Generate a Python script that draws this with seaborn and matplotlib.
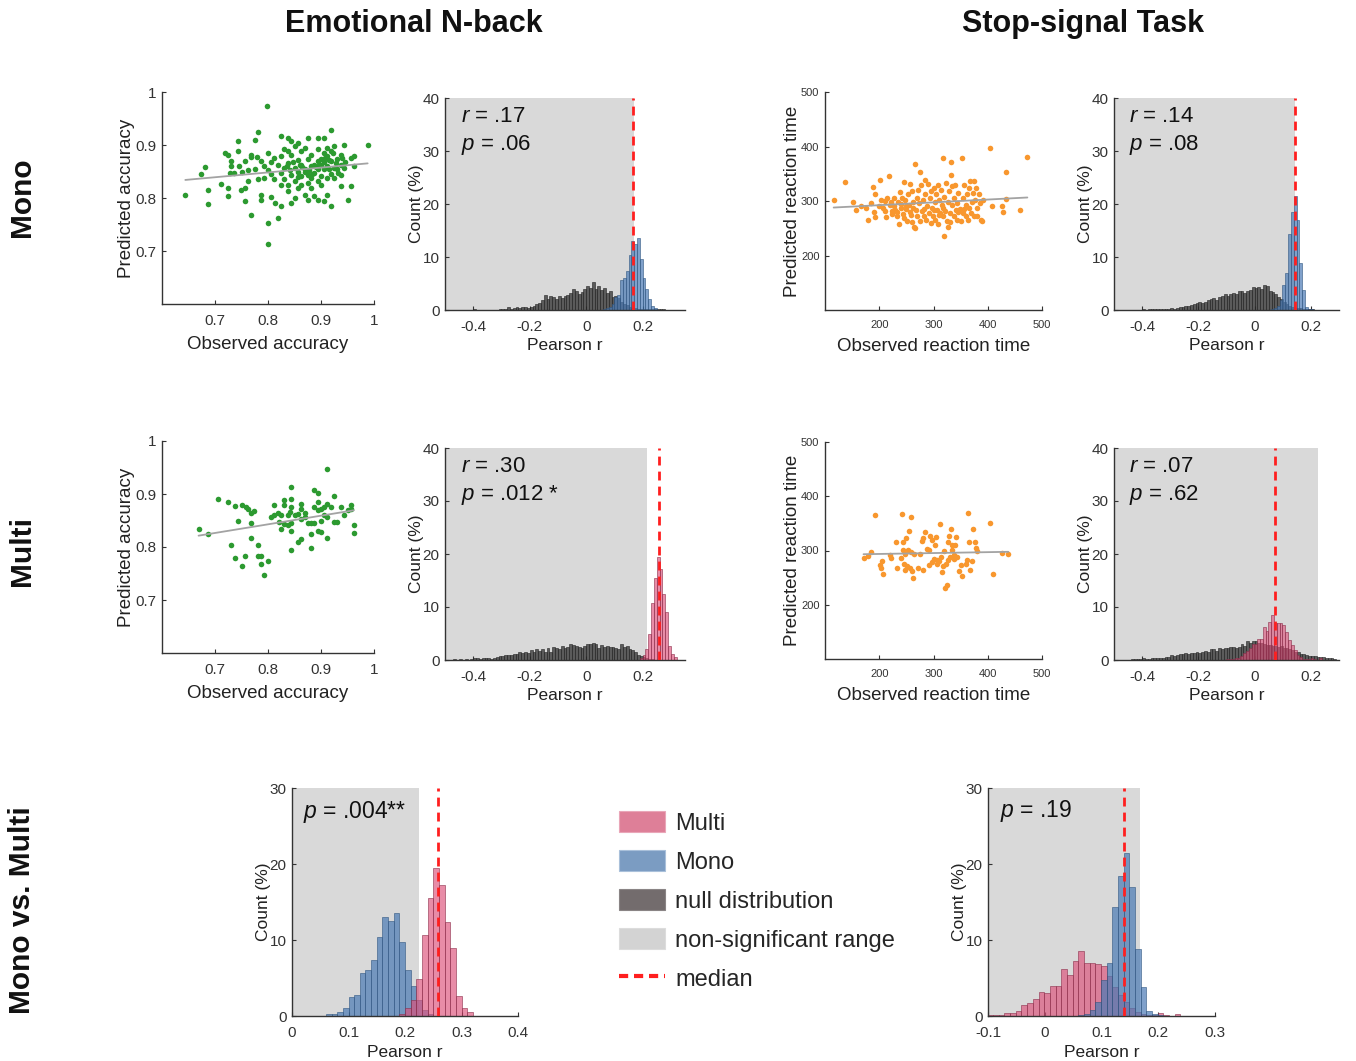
import numpy as np
import pandas as pd
import matplotlib
matplotlib.use("Agg")
import matplotlib.pyplot as plt
import seaborn as sns
from matplotlib.patches import Patch
from matplotlib.lines import Line2D

# ---------------- DATA ----------------
task_titles = ["Emotional N-back", "Stop-signal Task"]
row_labels = ["Mono", "Multi", "Mono vs. Multi"]
legend_labels = ["Multi", "Mono", "null distribution", "non-significant range", "median"]

# Emotional N-back, Mono: observed vs predicted accuracy
en_mono_obs = [0.644,0.674,0.681,0.687,0.687,0.712,0.718,0.724,0.724,0.725,
               0.731,0.731,0.729,0.736,0.743,0.743,0.745,0.749,0.750,0.756,
               0.756,0.762,0.762,0.756,0.768,0.768,0.768,0.775,0.775,0.780,
               0.781,0.781,0.787,0.787,0.787,0.792,0.793,0.798,0.800,0.800,
               0.800,0.800,0.806,0.806,0.806,0.812,0.812,0.813,0.818,0.818,
               0.825,0.825,0.825,0.825,0.825,0.831,0.831,0.831,0.837,0.837,
               0.837,0.837,0.837,0.844,0.844,0.844,0.844,0.850,0.850,0.850,
               0.850,0.856,0.856,0.856,0.856,0.862,0.862,0.862,0.862,0.869,
               0.869,0.869,0.875,0.875,0.875,0.875,0.875,0.881,0.881,0.881,
               0.881,0.887,0.887,0.887,0.894,0.894,0.894,0.894,0.894,0.894,
               0.900,0.900,0.900,0.900,0.906,0.906,0.906,0.906,0.912,0.912,
               0.912,0.912,0.912,0.919,0.919,0.919,0.919,0.919,0.925,0.925,
               0.925,0.931,0.931,0.937,0.937,0.937,0.937,0.944,0.944,0.950,
               0.956,0.956,0.962,0.962,0.988,
               0.865,0.878,0.890,0.905,0.915,0.922,0.908,0.897,0.883,0.870,
               0.860,0.848,0.835,0.842,0.857,0.915,0.928,0.940,0.945,0.933]
en_mono_pred = [0.805,0.846,0.858,0.816,0.789,0.827,0.884,0.881,0.819,0.803,
                0.870,0.860,0.847,0.847,0.908,0.889,0.860,0.816,0.849,0.870,
                0.819,0.852,0.832,0.795,0.882,0.877,0.768,0.909,0.854,0.877,
                0.925,0.835,0.870,0.806,0.797,0.860,0.837,0.974,0.885,0.852,
                0.753,0.713,0.868,0.846,0.801,0.876,0.835,0.791,0.862,0.763,
                0.917,0.879,0.847,0.825,0.784,0.892,0.857,0.835,0.914,0.889,
                0.866,0.825,0.813,0.908,0.882,0.844,0.790,0.898,0.857,0.832,
                0.800,0.904,0.871,0.849,0.819,0.889,0.863,0.841,0.825,0.895,
                0.854,0.806,0.914,0.873,0.844,0.828,0.797,0.882,0.860,0.838,
                0.819,0.863,0.847,0.803,0.914,0.892,0.870,0.854,0.832,0.797,
                0.873,0.863,0.841,0.825,0.914,0.885,0.854,0.794,0.895,0.879,
                0.860,0.838,0.806,0.928,0.889,0.870,0.846,0.784,0.898,0.857,
                0.838,0.873,0.854,0.882,0.863,0.844,0.822,0.900,0.857,0.797,
                0.875,0.822,0.879,0.861,0.900,
                0.858,0.852,0.858,0.868,0.872,0.885,0.876,0.862,0.845,0.850,
                0.862,0.868,0.860,0.852,0.840,0.855,0.866,0.875,0.868,0.848]

# Emotional N-back, Multi
en_multi_obs = [0.669,0.687,0.706,0.724,0.731,0.737,0.737,0.743,0.750,0.750,
                0.756,0.758,0.762,0.768,0.768,0.768,0.773,0.781,0.781,0.787,
                0.787,0.793,0.800,0.806,0.811,0.812,0.818,0.820,0.825,0.825,
                0.831,0.831,0.831,0.837,0.837,0.841,0.844,0.844,0.844,0.844,
                0.844,0.844,0.850,0.856,0.856,0.862,0.862,0.862,0.862,0.869,
                0.869,0.875,0.881,0.881,0.881,0.887,0.887,0.887,0.894,0.894,
                0.894,0.894,0.900,0.900,0.900,0.906,0.906,0.912,0.912,0.912,
                0.912,0.919,0.925,0.925,0.931,0.937,0.944,0.950,0.956,0.956,
                0.962,0.962]
en_multi_pred = [0.834,0.824,0.890,0.885,0.803,0.877,0.779,0.850,0.764,0.880,
                 0.783,0.875,0.872,0.846,0.817,0.865,0.867,0.803,0.783,0.783,
                 0.768,0.747,0.774,0.856,0.879,0.860,0.865,0.848,0.834,0.860,
                 0.888,0.844,0.879,0.860,0.842,0.866,0.913,0.891,0.875,0.846,
                 0.831,0.795,0.860,0.863,0.810,0.882,0.871,0.853,0.815,0.865,
                 0.856,0.846,0.825,0.798,0.846,0.907,0.875,0.846,0.901,0.885,
                 0.869,0.831,0.872,0.828,0.850,0.875,0.860,0.948,0.882,0.856,
                 0.817,0.875,0.896,0.848,0.848,0.875,0.861,0.869,0.880,0.871,
                 0.842,0.827]

# Stop-signal, Mono: observed vs predicted reaction time
ss_mono_obs = [116,137,151,157,166,176,179,188,190,192,
               192,201,203,207,210,212,215,218,220,223,
               224,227,229,232,235,236,238,241,243,246,
               247,249,251,253,255,257,259,261,261,263,
               264,265,266,268,270,271,273,276,276,277,
               279,280,282,284,285,287,288,290,291,293,
               295,296,297,299,301,302,303,305,307,308,
               309,311,312,314,316,317,317,319,320,321,
               323,325,326,327,329,331,332,332,334,335,
               337,338,340,341,343,344,346,349,351,352,
               354,355,357,359,360,362,363,365,366,368,
               369,371,372,374,375,377,378,380,381,383,
               385,387,390,392,404,408,427,429,433,434,
               459,473,
               228,233,240,245,250,256,262,270,283,300,
               310,318,330,345,356,210,222,199,185,242]
ss_mono_pred = [302,334,298,284,291,288,265,326,279,313,
                271,338,302,287,281,270,305,345,293,282,
                276,305,284,272,299,258,316,288,276,334,
                302,285,264,312,293,332,275,319,261,299,
                252,368,250,284,272,321,296,354,263,330,
                281,302,272,312,339,266,290,331,278,306,
                260,318,287,273,324,299,266,312,284,330,
                257,302,278,321,293,378,272,308,235,281,
                333,263,299,253,318,278,372,348,327,293,
                272,305,330,284,296,266,315,286,263,378,
                278,305,330,272,293,312,266,324,287,336,
                278,299,315,337,272,302,324,287,272,312,
                296,266,263,302,398,290,290,280,353,304,
                284,381,
                290,280,295,268,290,280,287,305,285,283,
                275,288,262,280,285,300,298,290,297,305]

# Stop-signal, Multi
ss_multi_obs = [171,179,185,193,201,203,205,207,219,221,
                230,232,240,242,243,244,246,247,248,250,
                252,253,254,256,258,259,260,262,264,272,
                276,278,280,281,284,288,291,292,294,297,
                298,300,303,305,306,307,311,312,314,316,
                317,320,321,323,325,326,327,329,331,332,
                334,335,337,338,340,342,344,347,350,353,
                359,361,364,365,368,371,373,376,379,381,
                404,410,426,438]
ss_multi_pred = [287,290,298,366,273,267,280,256,291,287,
                 315,267,287,368,315,301,276,264,294,323,
                 272,301,336,267,298,362,262,250,293,267,
                 293,317,323,264,334,302,301,273,327,319,
                 278,284,310,325,282,276,280,348,288,261,
                 272,299,230,276,236,315,282,327,288,339,
                 301,310,284,291,310,325,288,262,274,253,
                 276,282,370,316,264,280,339,315,305,299,
                 350,256,296,293]

# Histograms (percent of permutations), bin width 0.01
bin_width = 0.01
en_mono_null_start = -0.40
en_mono_null = [0.1,0,0,0,0,0,0,0,0,0.1,
                0.1,0.1,0.5,0.2,0.3,0.5,0.4,0.5,0.5,0.4,
                0.6,0.8,1.2,1.3,1.8,2.8,2.0,2.6,2.4,2.0,
                2.6,2.3,2.6,2.9,3.3,4.0,3.6,3.0,3.4,4.0,
                4.6,4.2,5.2,4.0,4.6,3.8,4.2,3.3,3.6,2.5,
                2.6,2.2,1.6,1.2,0.9,0.6,0.4,0.3,0.2,0.1,
                0.1,0.1,0.1,0.1,0.1,0.1,0.1,0.2]
en_multi_null_start = -0.47
en_multi_null = [0.1,0.0,0.1,0.0,0.2,0.0,0.1,0.3,0.3,0.2,
                 0.4,0.3,0.3,0.2,0.3,0.5,0.7,0.8,0.9,1.0,
                 1.0,1.2,1.1,1.5,1.4,1.6,1.3,1.8,1.5,2.0,
                 1.7,2.0,1.5,2.2,1.6,2.4,2.2,2.0,2.6,2.2,
                 2.5,3.0,2.9,2.6,2.4,2.3,2.6,3.1,3.0,3.2,
                 3.0,2.3,2.8,2.5,2.6,2.4,2.5,2.3,2.0,3.1,
                 2.4,2.6,2.0,1.8,1.5,1.0,0.7,0.5,0.3,0.2,0.1]
ss_mono_null_start = -0.40
ss_mono_null = [0.2,0.0,0.1,0.1,0.1,0.1,0.2,0.2,0.1,0.2,
                0.3,0.2,0.3,0.5,0.5,0.7,0.8,1.0,1.1,1.3,
                1.6,1.4,1.5,1.8,2.0,2.3,1.9,2.5,2.7,3.0,
                2.7,3.1,3.3,3.0,3.6,3.5,3.2,3.6,3.8,4.3,
                4.1,4.4,4.0,4.8,4.6,3.6,3.4,3.0,2.4,2.0,
                1.5,1.1,0.8,0.6,0.4,0.3,0.3,0.2,0.2,0.1,0.1]
ss_multi_null_start = -0.44
ss_multi_null = [0.1,0.1,0.1,0.1,0.3,0.1,0.2,0.3,0.4,0.4,
                 0.3,0.4,0.6,0.5,0.9,0.8,1.0,1.1,1.2,1.3,
                 1.2,1.4,1.3,1.5,1.4,1.5,1.7,1.6,2.0,2.1,
                 1.7,2.3,2.0,2.3,2.3,2.5,2.4,2.3,2.5,3.0,
                 2.6,3.6,3.3,3.5,3.6,3.3,3.2,3.0,2.8,2.9,
                 2.6,2.7,2.5,2.6,2.3,2.3,2.0,1.9,1.6,1.5,
                 1.2,1.1,0.9,0.8,0.8,0.7,0.6,0.6,0.5,0.4,
                 0.4,0.3,0.2]

en_mono_r_start = 0.06
en_mono_r = [0.2,0.3,0.5,1.1,2.5,2.8,5.7,6.0,7.4,10.4,
             13.0,12.5,13.5,9.7,6.0,3.9,2.1,0.8,0.3]
en_multi_r_start = 0.19
en_multi_r = [0.3,1.0,2.1,4.9,10.7,15.5,19.5,17.2,12.4,9.0,2.6,1.1,0.5]
ss_mono_r_start = 0.059
ss_mono_r = [0.1,0.3,0.8,1.9,4.8,7.0,14.3,18.4,21.5,17.0,8.8,3.8,0.6,0.2,0.1]
ss_multi_r_start = -0.101
ss_multi_r = [0.1,0.1,0.1,0.4,0.4,0.7,1.4,1.7,2.2,3.1,
              3.0,4.0,3.9,6.2,5.4,7.2,8.5,7.0,7.0,6.9,
              6.6,5.2,3.8,2.8,1.8,1.0,0.5,0.2,0.1,0.1,
              0.4,0.1,0.0,0.3]

# medians and upper bounds of the non-significant range
en_mono_median, en_mono_thr = 0.167, 0.168
en_multi_median, en_multi_thr = 0.258, 0.215
ss_mono_median, ss_mono_thr = 0.142, 0.144
ss_multi_median, ss_multi_thr = 0.073, 0.226
en_diff_median, en_diff_thr = 0.258, 0.225
ss_diff_median, ss_diff_thr = 0.139, 0.168

stats_text = {
    "en_mono": ("$r$ = .17", "$p$ = .06"),
    "en_multi": ("$r$ = .30", "$p$ = .012 *"),
    "ss_mono": ("$r$ = .14", "$p$ = .08"),
    "ss_multi": ("$r$ = .07", "$p$ = .62"),
}
diff_text = {"en": "$p$ = .004**", "ss": "$p$ = .19"}

# ---------------- STYLE ----------------
sns.set_theme(style="white")
plt.rcParams["font.family"] = ["Liberation Sans", "DejaVu Sans"]
plt.rcParams["mathtext.fontset"] = "custom"
plt.rcParams["mathtext.it"] = "Liberation Sans:italic"
plt.rcParams["mathtext.rm"] = "Liberation Sans"
plt.rcParams["axes.unicode_minus"] = False

GREEN = "#2c9a30"
ORANGE = "#f8972e"
BLUE = "#4a7ab5"
PINK = "#dd4f79"
NULLC = "#3c3c3c"
GREYBG = "#d9d9d9"
RED = "#ff1f1f"
SPINE = "#333333"

W, H = 1356, 1061
fig = plt.figure(figsize=(W / 100, H / 100), dpi=100)


def box(l, t, r, b):
    return fig.add_axes([l / W, 1 - b / H, (r - l) / W, (b - t) / H])


def style_axes(ax, labelsize):
    for s in ["top", "right"]:
        ax.spines[s].set_visible(False)
    for s in ["left", "bottom"]:
        ax.spines[s].set_color(SPINE)
        ax.spines[s].set_linewidth(1.0)
    ax.tick_params(axis="both", direction="in", length=3, width=0.8,
                   colors=SPINE, labelsize=labelsize, pad=4,
                   bottom=True, left=True)
    ax.tick_params(axis="x", pad=7)
    ax.set_facecolor("none")


def scatter_panel(ax, obs, pred, color, lim, ticks, ticklabels,
                  xlabel, ylabel, tick_fs):
    df = pd.DataFrame({"obs": obs, "pred": pred})
    sns.scatterplot(data=df, x="obs", y="pred", ax=ax, color=color, s=16,
                    linewidth=0, zorder=3)
    sns.regplot(data=df, x="obs", y="pred", ax=ax, scatter=False, ci=None,
                truncate=True, line_kws=dict(color="#a3a3a3", lw=1.3, zorder=4))
    ax.set_xlim(*lim)
    ax.set_ylim(*lim)
    ax.set_xticks(ticks)
    ax.set_xticklabels(ticklabels)
    ax.set_yticks(ticks)
    ax.set_yticklabels(ticklabels)
    style_axes(ax, tick_fs)
    ax.set_xlabel(xlabel, fontsize=13.5, color="#222222", labelpad=6)
    ax.set_ylabel(ylabel, fontsize=13.5, color="#222222", labelpad=0)


def hist_layer(ax, start, heights, color, alpha, edge):
    heights = np.asarray(heights, dtype=float)
    n = len(heights)
    centers = start + bin_width * (np.arange(n) + 0.5)
    df = pd.DataFrame({"r": centers, "pct": heights})
    sns.histplot(data=df, x="r", weights="pct", binwidth=bin_width,
                 binrange=(start, start + n * bin_width), ax=ax, color=color,
                 alpha=alpha, edgecolor=edge, linewidth=0.4)


def finish_hist(ax, xlim, ylim, thr, med, xticks, xticklabels, yticks,
                xlabelpad=3):
    ax.set_xlim(*xlim)
    ax.set_ylim(*ylim)
    ax.axvspan(xlim[0], thr, color=GREYBG, zorder=0, lw=0)
    ax.axvline(med, color=RED, ls=(0, (3.2, 2.2)), lw=2.0, zorder=6)
    ax.set_xticks(xticks)
    ax.set_xticklabels(xticklabels)
    ax.set_yticks(yticks)
    ax.set_yticklabels([str(v) for v in yticks])
    style_axes(ax, 11)
    ax.set_xlabel("Pearson r", fontsize=12.5, color="#222222", labelpad=xlabelpad)
    ax.set_ylabel("Count (%)", fontsize=12.5, color="#222222", labelpad=-1)


def stats_box(ax, lines):
    ax.text(0.065, 0.885, lines[0], transform=ax.transAxes, fontsize=16,
            va="baseline", color="#111111", zorder=7)
    ax.text(0.065, 0.755, lines[1], transform=ax.transAxes, fontsize=16,
            va="baseline", color="#111111", zorder=7)


acc_ticks = [0.7, 0.8, 0.9, 1.0]
acc_labels = ["0.7", "0.8", "0.9", "1"]
rt_ticks = [200, 300, 400, 500]
rt_labels = ["200", "300", "400", "500"]
r_ticks = [-0.4, -0.2, 0.0, 0.2]
r_labels = ["-0.4", "-0.2", "0", "0.2"]

# ---- Row 1: Mono ----
ax = box(162, 92, 374, 304)
scatter_panel(ax, en_mono_obs, en_mono_pred, GREEN, (0.6, 1.0), acc_ticks,
              acc_labels, "Observed accuracy", "Predicted accuracy", 11)

ax = box(445, 98, 685, 310)
hist_layer(ax, en_mono_null_start, en_mono_null, NULLC, 0.8, "#222222")
hist_layer(ax, en_mono_r_start, en_mono_r, BLUE, 0.7, "#2f5580")
finish_hist(ax, (-0.5, 0.35), (0, 40), en_mono_thr, en_mono_median,
            r_ticks, r_labels, [0, 10, 20, 30, 40])
stats_box(ax, stats_text["en_mono"])

ax = box(825, 92, 1042, 310)
scatter_panel(ax, ss_mono_obs, ss_mono_pred, ORANGE, (100, 500), rt_ticks,
              rt_labels, "Observed reaction time", "Predicted reaction time", 8)

ax = box(1114, 98, 1339, 310)
hist_layer(ax, ss_mono_null_start, ss_mono_null, NULLC, 0.8, "#222222")
hist_layer(ax, ss_mono_r_start, ss_mono_r, BLUE, 0.7, "#2f5580")
finish_hist(ax, (-0.5, 0.3), (0, 40), ss_mono_thr, ss_mono_median,
            r_ticks, r_labels, [0, 10, 20, 30, 40])
stats_box(ax, stats_text["ss_mono"])

# ---- Row 2: Multi ----
ax = box(162, 441, 374, 653)
scatter_panel(ax, en_multi_obs, en_multi_pred, GREEN, (0.6, 1.0), acc_ticks,
              acc_labels, "Observed accuracy", "Predicted accuracy", 11)

ax = box(445, 448, 685, 660)
hist_layer(ax, en_multi_null_start, en_multi_null, NULLC, 0.8, "#222222")
hist_layer(ax, en_multi_r_start, en_multi_r, PINK, 0.65, "#8a2c48")
finish_hist(ax, (-0.5, 0.35), (0, 40), en_multi_thr, en_multi_median,
            r_ticks, r_labels, [0, 10, 20, 30, 40])
stats_box(ax, stats_text["en_multi"])

ax = box(825, 442, 1042, 659)
scatter_panel(ax, ss_multi_obs, ss_multi_pred, ORANGE, (100, 500), rt_ticks,
              rt_labels, "Observed reaction time", "Predicted reaction time", 8)

ax = box(1114, 448, 1339, 660)
hist_layer(ax, ss_multi_null_start, ss_multi_null, NULLC, 0.8, "#222222")
hist_layer(ax, ss_multi_r_start, ss_multi_r, PINK, 0.6, "#8a2c48")
finish_hist(ax, (-0.5, 0.3), (0, 40), ss_multi_thr, ss_multi_median,
            r_ticks, r_labels, [0, 10, 20, 30, 40])
stats_box(ax, stats_text["ss_multi"])

# ---- Row 3: Mono vs. Multi ----
ax = box(292, 788, 518, 1016)
hist_layer(ax, en_mono_r_start, en_mono_r, BLUE, 0.7, "#2f5580")
hist_layer(ax, en_multi_r_start, en_multi_r, PINK, 0.65, "#8a2c48")
finish_hist(ax, (0.0, 0.4), (0, 30), en_diff_thr, en_diff_median,
            [0, 0.1, 0.2, 0.3, 0.4], ["0", "0.1", "0.2", "0.3", "0.4"],
            [0, 10, 20, 30], xlabelpad=4)
ax.text(0.05, 0.868, diff_text["en"], transform=ax.transAxes, fontsize=16.5,
        va="baseline", color="#111111", zorder=7)

ax = box(988, 788, 1215, 1016)
hist_layer(ax, ss_multi_r_start, ss_multi_r, PINK, 0.65, "#8a2c48")
hist_layer(ax, ss_mono_r_start, ss_mono_r, BLUE, 0.7, "#2f5580")
finish_hist(ax, (-0.1, 0.3), (0, 30), ss_diff_thr, ss_diff_median,
            [-0.1, 0, 0.1, 0.2, 0.3], ["-0.1", "0", "0.1", "0.2", "0.3"],
            [0, 10, 20, 30], xlabelpad=4)
ax.text(0.055, 0.872, diff_text["ss"], transform=ax.transAxes, fontsize=16.5,
        va="baseline", color="#111111", zorder=7)

# ---- Legend ----
handles = [
    Patch(facecolor="#de7f98", edgecolor="#e9a6b8", lw=0.8),
    Patch(facecolor="#7b9cc2", edgecolor="#a9c0da", lw=0.8),
    Patch(facecolor="#736c6d", edgecolor="#8a8485", lw=0.8),
    Patch(facecolor="#d3d3d3", edgecolor="#dcdcdc", lw=0.8),
    Line2D([0], [0], color=RED, ls=(0, (2.2, 1.4)), lw=3),
]
fig.legend(handles, legend_labels, loc="upper left",
           bbox_to_anchor=(619 / W, 1 - 811 / H), frameon=False,
           fontsize=17, handlelength=1.95, handleheight=1.0,
           labelspacing=0.65, handletextpad=0.42, borderpad=0,
           borderaxespad=0)

# ---- Titles and row labels ----
fig.text(414 / W, 1 - 24 / H, task_titles[0], ha="center", va="center",
         fontsize=22, fontweight="bold", color="#111111")
fig.text(1083 / W, 1 - 24 / H, task_titles[1], ha="center", va="center",
         fontsize=22, fontweight="bold", color="#111111")
for label, yc in zip(row_labels, [197, 551, 910]):
    fig.text(22 / W, 1 - yc / H, label, rotation=90, ha="center", va="center",
             fontsize=21.5, fontweight="bold", color="#111111")

fig.savefig("out.png", dpi=100)
